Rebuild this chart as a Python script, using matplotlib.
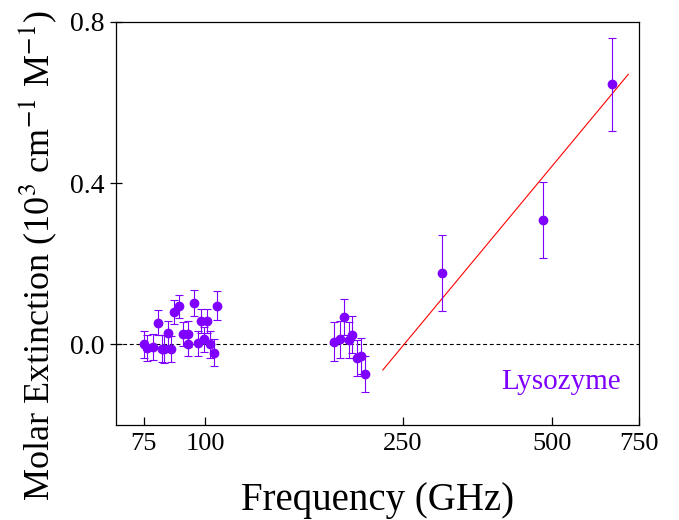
"""Molar extinction of lysozyme vs frequency (log x), with linear-in-log fit."""
import matplotlib
matplotlib.use("Agg")
import matplotlib.pyplot as plt
from matplotlib.ticker import FixedLocator, NullLocator, FixedFormatter

plt.rcParams["font.family"] = ["Liberation Serif", "DejaVu Serif"]
plt.rcParams["mathtext.fontset"] = "stix"

PURPLE = "#7F00FF"

# measured points (GHz, 10^3 cm^-1 M^-1)
freq = [75.0, 76.3, 78.3, 80.3, 81.7, 82.4, 84.0, 85.1, 86.3, 88.6, 90.1,
        92.0, 92.4, 94.6, 96.4, 97.8, 99.3, 100.6, 102.2, 104.1, 105.4,
        181.6, 186.6, 190.6, 194.6, 198.0, 202.0, 206.0, 210.0,
        300.0, 481.0, 661.0]
ext = [0.000, -0.009, -0.007, 0.053, -0.011, -0.012, 0.028, -0.012, 0.080, 0.094, 0.025,
       0.000, 0.025, 0.102, 0.002, 0.058, 0.012, 0.058, 0.000, -0.021, 0.095,
       0.006, 0.012, 0.067, 0.010, 0.024, -0.035, -0.030, -0.074,
       0.177, 0.309, 0.645]
err = [0.034, 0.033, 0.032, 0.031, 0.033, 0.034, 0.030, 0.033, 0.030, 0.028, 0.030,
       0.030, 0.032, 0.033, 0.032, 0.030, 0.032, 0.030, 0.033, 0.033, 0.036,
       0.048, 0.045, 0.045, 0.045, 0.045, 0.045, 0.045, 0.045,
       0.095, 0.094, 0.116]

# fit line end points
fit_freq = [228, 714]
fit_ext = [-0.064, 0.670]

xticks = [75, 100, 250, 500, 750]
yticks = [0.0, 0.4, 0.8]

fig = plt.figure(figsize=(6.79, 5.2), dpi=100)
ax = fig.add_axes([0.171, 0.183, 0.770, 0.775])

ax.axhline(0, color="black", lw=0.8, ls=(0, (3.5, 2.5)), zorder=1)
ax.errorbar(freq, ext, yerr=err, fmt="o", color=PURPLE, ms=6, elinewidth=0.8,
            capsize=3, capthick=0.8, zorder=3)
ax.plot(fit_freq, fit_ext, color="red", lw=0.8, zorder=2)

ax.set_xscale("log")
ax.set_xlim(66, 750)
ax.set_ylim(-0.2, 0.8)
ax.xaxis.set_major_locator(FixedLocator(xticks))
ax.xaxis.set_major_formatter(FixedFormatter([str(t) for t in xticks]))
ax.xaxis.set_minor_locator(NullLocator())
ax.set_yticks(yticks)
ax.set_yticklabels([f"{t:.1f}" for t in yticks])

ax.tick_params(axis="x", direction="in", length=6, width=0.9, labelsize=19, pad=6)
ax.tick_params(axis="y", direction="inout", length=8, width=0.9, labelsize=20, pad=4)
for s in ax.spines.values():
    s.set_linewidth(0.9)

ax.text(0.966, 0.107, "Lysozyme", transform=ax.transAxes, ha="right", va="center",
        fontsize=21, color=PURPLE)

ax.set_xlabel("Frequency (GHz)", fontsize=28)
ax.set_ylabel("Molar Extinction (10$^{3}$ cm$^{-1}$ M$^{-1}$)", fontsize=26)
ax.xaxis.set_label_coords(0.5, -0.142)
ax.yaxis.set_label_coords(-0.11, 0.42)

fig.savefig("out.png", dpi=100)
